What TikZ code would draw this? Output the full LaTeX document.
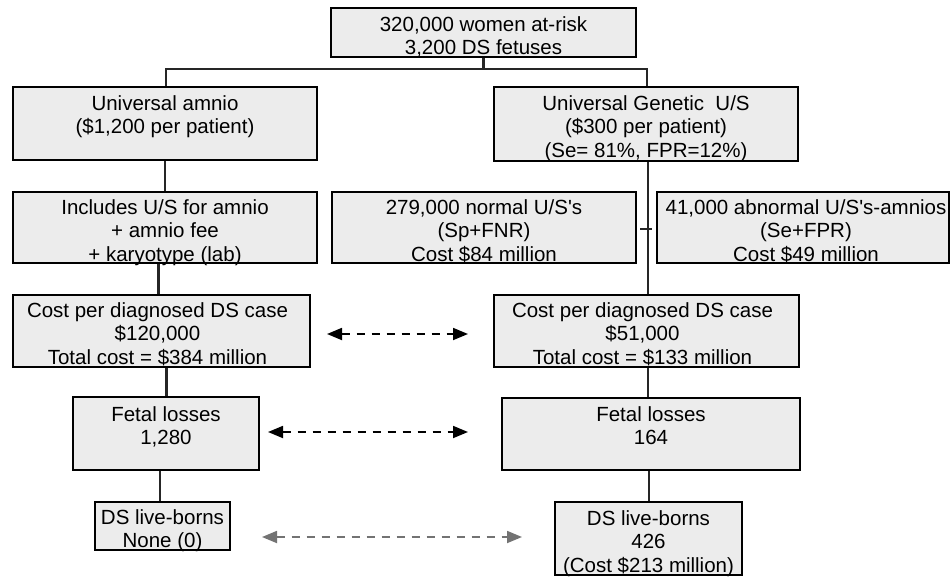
\documentclass[tikz,border=0pt]{standalone}
\usepackage{fontspec}
\setmainfont{Liberation Sans}
\usetikzlibrary{fit,arrows.meta}
\pgfdeclarelayer{bg}
\pgfsetlayers{bg,main}
\newcommand\mystrut{\rule{0pt}{17pt}}
\tikzset{
  box/.style={draw=black, line width=2.4pt, fill=gray!15, inner sep=0pt},
  txt/.style={inner sep=0pt, align=center, font=\fontsize{20.5}{23.5}\selectfont},
  conn/.style={line width=2.2pt, black!85},
  darrow/.style={line width=1.8pt, dash pattern=on 8pt off 7pt, {Triangle[length=15pt,width=12pt]}-{Triangle[length=15pt,width=12pt]}},
}
\begin{document}
\begin{tikzpicture}[x=1pt,y=-1pt]
\useasboundingbox (0,0) rectangle (950,579);
% boxes
\node[box, fit={(331,8)(636,57)}] (top) {};
\node[box, fit={(13,87)(317,160)}] (amnio) {};
\node[box, fit={(494,87)(798,161)}] (gen) {};
\node[box, fit={(13,192)(317,263)}] (incl) {};
\node[box, fit={(332,192)(636,263)}] (norm) {};
\node[box, fit={(657,192)(949,263)}] (abn) {};
\node[box, fit={(13,295)(310,367)}] (costL) {};
\node[box, fit={(494,295)(799,367)}] (costR) {};
\node[box, fit={(73,397)(259,470)}] (fetL) {};
\node[box, fit={(502,398)(800,470)}] (fetR) {};
\node[box, fit={(95,502)(230,550)}] (dsL) {};
\node[box, fit={(555,502)(742,575)}] (dsR) {};
% texts
\node[txt, anchor=north] (top-t) at ([yshift=-7pt]top.north) {\mystrut 320,000 women at-risk\\3,200 DS fetuses};
\node[txt, anchor=north] (amnio-t) at ([yshift=-7pt]amnio.north) {\mystrut Universal amnio\\(\$1,200 per patient)};
\node[txt, anchor=north] (gen-t) at ([yshift=-7pt]gen.north) {\mystrut Universal Genetic\ \ U/S\\(\$300 per patient)\\(Se= 81\%, FPR=12\%)};
\node[txt, anchor=north] (incl-t) at ([yshift=-6pt]incl.north) {\mystrut Includes U/S for amnio\\+ amnio fee\\+ karyotype (lab)};
\node[txt, anchor=north] (norm-t) at ([yshift=-6pt]norm.north) {\mystrut 279,000 normal U/S\textquotesingle s\\(Sp+FNR)\\Cost \$84 million};
\node[txt, anchor=north] (abn-t) at ([yshift=-6pt,xshift=3pt]abn.north) {\mystrut 41,000 abnormal U/S\textquotesingle s-amnios\\(Se+FPR)\\Cost \$49 million};
\node[txt, anchor=north] (costL-t) at ([yshift=-6pt,xshift=-4pt]costL.north) {\mystrut Cost per diagnosed DS case\\\$120,000\\Total cost = \$384 million};
\node[txt, anchor=north] (costR-t) at ([yshift=-6pt,xshift=-4pt]costR.north) {\mystrut Cost per diagnosed DS case\\\$51,000\\Total cost = \$133 million};
\node[txt, anchor=north] (fetL-t) at ([yshift=-8pt]fetL.north) {\mystrut Fetal losses\\1,280};
\node[txt, anchor=north] (fetR-t) at ([yshift=-7pt]fetR.north) {\mystrut Fetal losses\\164};
\node[txt, anchor=north] (dsL-t) at ([yshift=-6pt]dsL.north) {\mystrut DS live-borns\\None (0)};
\node[txt, anchor=north] (dsR-t) at ([yshift=-7pt]dsR.north) {\mystrut DS live-borns\\426\\(Cost \$213 million)};
% connectors (behind boxes and texts)
\begin{pgfonlayer}{bg}
\coordinate (jl) at (166,69);
\coordinate (jr) at (647,69);
\draw[conn] (top.south) -- (top.south |- jl);
\draw[conn] (amnio.north -| jl) -- (jl) -- (jr) -- (gen.north -| jr);
\draw[conn] (amnio.south) -- (incl.north -| amnio.south);
\draw[conn] ([xshift=-3pt]costL.north |- incl.south) -- ([xshift=-3pt]costL.north);
\draw[conn] ([xshift=5pt]costL.south) -- ([xshift=5pt]costL.south |- fetL.north);
\draw[conn] ([xshift=-6pt]fetL.south) -- ([xshift=-6pt]fetL.south |- dsL.north);
\draw[conn] ([xshift=2pt]gen.south) -- ([xshift=2pt]gen.south |- costR.north);
\coordinate (tk) at (0,229);
\draw[conn] ([xshift=3pt]norm.east |- tk) -- ([xshift=-4pt]abn.west |- tk);
\draw[conn] ([xshift=1.5pt]costR.south) -- ([xshift=1.5pt]costR.south |- fetR.north);
\draw[conn] ([xshift=0.5pt]dsR.north |- fetR.south) -- ([xshift=0.5pt]dsR.north);
\end{pgfonlayer}
% dashed arrows
\coordinate (a1l) at (327,334); \coordinate (a1r) at (468,334);
\coordinate (a2l) at (268,432); \coordinate (a2r) at (468,432);
\coordinate (a3l) at (262,537); \coordinate (a3r) at (522,537);
\draw[darrow] (a1l) -- (a1r);
\draw[darrow] (a2l) -- (a2r);
\draw[darrow, black!55] (a3l) -- (a3r);
\end{tikzpicture}
\end{document}
